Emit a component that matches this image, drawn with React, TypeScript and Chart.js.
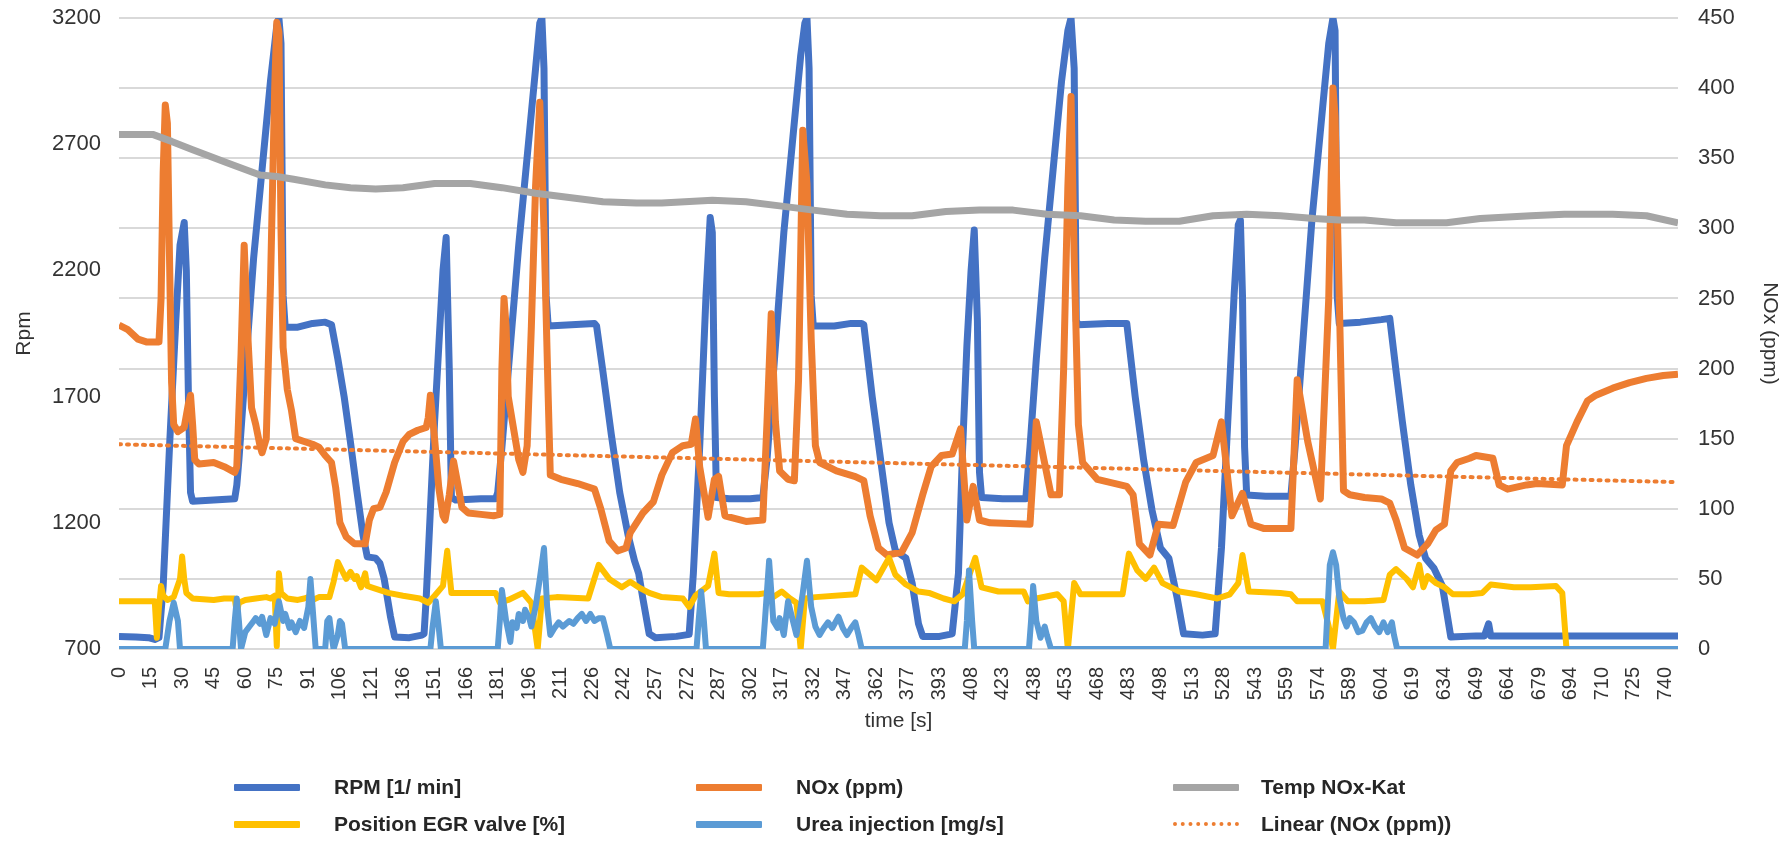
import React, { useEffect, useRef } from "react";
import { Chart, registerables } from "chart.js";

Chart.register(...registerables);

// x values are sample numbers (one sample per ~1.007 s); tick labels are the rounded times
const tickLabels = ["0","15","30","45","60","75","91","106","121","136","151","166","181","196","211","226","242","257","272","287","302","317","332","347","362","377","393","408","423","438","453","468","483","498","513","528","543","559","574","589","604","619","634","649","664","679","694","710","725","740"];
const tickStep = 15;
const lastSample = 741;

const rpmLabel = "RPM [1/ min]";
const noxLabel = "NOx (ppm)";
const tempLabel = "Temp NOx-Kat";
const egrLabel = "Position EGR valve [%]";
const ureaLabel = "Urea injection [mg/s]";
const trendLabel = "Linear (NOx (ppm))";

const rpm: [number, number][] = [[0,750],[8,748],[14,745],[17,738],[19,745],[21,950],[24,1500],[27,2000],[29,2300],[31,2390],[32,2200],[33,1700],[34,1320],[35,1285],[45,1290],[55,1295],[56,1350],[57,1450],[60,1800],[64,2250],[68,2600],[72,2950],[75,3170],[76,3200],[77,3100],[78,2100],[79,1975],[85,1975],[92,1990],[98,1995],[101,1985],[104,1850],[107,1700],[110,1520],[113,1330],[116,1150],[118,1065],[122,1060],[124,1040],[126,980],[129,830],[131,748],[138,745],[144,755],[145,760],[146,900],[148,1250],[150,1600],[152,1900],[154,2200],[155.5,2330],[157,1800],[158,1300],[160,1290],[172,1295],[179,1295],[180,1320],[182,1500],[186,1900],[190,2300],[194,2650],[198,3000],[200,3180],[201,3200],[202,3000],[203,2100],[204,1980],[215,1985],[226,1990],[227,1980],[230,1800],[234,1550],[238,1320],[242,1150],[245,1050],[247,1000],[249,900],[252,760],[255,745],[265,750],[271,758],[273,1000],[276,1500],[279,2100],[281,2410],[282,2350],[283,1700],[284,1300],[290,1295],[300,1295],[306,1300],[308,1450],[312,1900],[316,2350],[320,2700],[324,3050],[326,3180],[327,3200],[328,3000],[329,2100],[330,1980],[340,1980],[348,1990],[353,1990],[354,1985],[358,1700],[362,1450],[366,1200],[369,1090],[374,1060],[377,960],[380,800],[382,750],[390,750],[396,760],[399,1000],[401,1500],[403,1900],[405,2200],[406.5,2360],[408,2000],[409,1400],[410,1300],[420,1295],[431,1295],[433,1500],[436,1850],[440,2250],[444,2600],[448,2950],[451,3150],[452.5,3200],[454,3000],[455,2000],[456,1985],[470,1990],[479,1990],[483,1700],[487,1450],[491,1250],[495,1100],[499,1060],[503,900],[506,760],[515,755],[521,760],[524,1100],[527,1600],[530,2100],[532,2380],[533,2400],[534,2100],[535,1500],[536,1310],[545,1305],[557,1305],[559,1500],[563,1950],[567,2400],[571,2750],[575,3100],[577,3200],[578,3150],[579,2100],[580,1990],[590,1995],[600,2005],[604,2010],[607,1800],[610,1600],[614,1350],[618,1150],[621,1060],[625,1020],[629,950],[631,850],[633,748],[645,752],[649,752],[651,800],[652,752],[700,752],[741,752]];

const nox: [number, number][] = [[0,231],[4,228],[9,221],[13,219],[19,219],[20,250],[21,340],[22,388],[23,375],[24,280],[25,190],[26,160],[28,155],[31,158],[33,175],[34,181],[35,160],[36,135],[38,132],[45,133],[50,130],[55,126],[56,130],[58,210],[59.5,288],[61,230],[63,172],[65,160],[67,145],[68,140],[70,150],[72,260],[74,400],[75,447],[76,440],[77,300],[78,215],[80,185],[82,170],[84,150],[88,148],[92,146],[95,144],[98,138],[101,133],[103,115],[105,90],[108,80],[112,75],[117,75],[119,92],[121,100],[124,101],[127,112],[131,133],[135,148],[138,153],[142,156],[146,158],[147,165],[148,181],[150,150],[152,115],[154,95],[155,92],[157,110],[159,134],[161,118],[163,101],[166,97],[172,96],[178,95],[181,96],[182,200],[183,250],[184,230],[185,180],[187,162],[190,135],[192,126],[194,145],[196,230],[198,330],[200,390],[202,300],[204,180],[205,124],[210,121],[218,118],[226,114],[229,100],[233,77],[237,70],[241,72],[243,83],[249,97],[254,105],[258,124],[263,140],[268,145],[272,146],[274,164],[276,130],[280,94],[283,121],[285,123],[288,95],[298,91],[306,92],[308,162],[310,239],[312,162],[314,127],[318,121],[321,120],[323,192],[325,370],[327,332],[329,221],[331,145],[333,133],[341,127],[350,123],[354,120],[357,95],[361,72],[365,67],[372,69],[377,83],[382,110],[386,130],[391,138],[396,139],[400,157],[403,92],[406,116],[409,92],[414,90],[433,89],[436,162],[443,110],[447,110],[449,200],[451,330],[452.5,394],[454,280],[456,160],[458,133],[465,121],[479,116],[482,110],[485,75],[490,67],[494,89],[501,88],[507,119],[512,133],[520,138],[524,162],[529,95],[534,111],[538,89],[544,86],[557,86],[560,192],[565,148],[571,107],[575,250],[577,400],[578,380],[580,250],[582,113],[585,110],[592,108],[600,107],[604,104],[607,92],[611,72],[617,67],[622,75],[626,85],[630,89],[633,127],[636,133],[642,136],[645,138],[653,136],[656,117],[660,114],[669,117],[674,118],[686,117],[688,145],[693,162],[698,177],[702,181],[710,186],[718,190],[726,193],[734,195],[741,196]];

const temp: [number, number][] = [[0,367],[16,367],[25,362],[35,356],[51,347],[67,338],[75,337],[83,335],[98,331],[110,329],[122,328],[135,329],[150,332],[167,332],[182,329],[198,325],[214,322],[230,319],[246,318],[258,318],[282,320],[298,319],[314,316],[330,313],[346,310],[362,309],[377,309],[393,312],[409,313],[425,313],[441,310],[457,309],[473,306],[488,305],[504,305],[520,309],[536,310],[552,309],[568,307],[580,306],[592,306],[607,304],[631,304],[647,307],[671,309],[687,310],[710,310],[726,309],[741,304]];

const egr: [number, number][] = [[0,34],[17,34],[18,8],[19,30],[20,45],[21,38],[23,35],[26,37],[29,50],[30,66],[31,50],[32,40],[35,36],[45,35],[50,36],[55,36],[56,26],[57,33],[60,35],[65,36],[70,37],[72,36],[74,38],[75,2],[76,54],[77,40],[80,36],[85,35],[88,36],[90,37],[92,35],[95,37],[100,37],[102,48],[104,62],[106,56],[108,50],[110,55],[112,50],[113,52],[115,44],[117,54],[118,45],[120,44],[124,42],[128,40],[135,38],[143,36],[147,33],[150,38],[154,45],[156,70],[158,40],[166,40],[179,40],[181,33],[185,35],[192,40],[196,33],[199,0],[201,36],[208,37],[223,36],[228,60],[233,50],[239,44],[243,48],[247,44],[252,40],[258,37],[268,36],[271,30],[274,38],[280,45],[283,68],[285,40],[290,39],[304,39],[308,40],[311,37],[315,41],[319,36],[322,33],[324,0],[326,36],[331,37],[350,39],[353,58],[357,53],[360,49],[366,65],[369,53],[374,46],[380,41],[385,40],[392,36],[397,34],[401,39],[407,65],[410,44],[418,41],[430,41],[432,34],[436,36],[446,39],[449,34],[451,0],[454,47],[457,39],[477,39],[480,68],[484,56],[488,50],[492,58],[496,47],[504,41],[512,39],[522,36],[528,39],[532,47],[534,67],[537,41],[552,40],[557,39],[560,34],[572,34],[575,16],[577,0],[580,41],[584,34],[592,34],[601,35],[604,53],[607,57],[612,50],[615,44],[618,60],[620,44],[622,52],[626,47],[630,44],[634,39],[642,39],[648,40],[652,46],[663,44],[671,44],[683,45],[686,40],[688,0]];

const urea: [number, number][] = [[0,0],[22,0],[24,20],[26,33],[28,20],[29,0],[54,0],[55,20],[56,36],[57,20],[58,0],[60,12],[62,16],[64,20],[65,22],[67,18],[68,23],[70,10],[72,22],[74,18],[76,34],[78,20],[79,25],[81,15],[82,19],[84,12],[86,20],[88,15],[90,30],[91,50],[92,30],[93.5,0],[98,0],[99,20],[100,22],[101,10],[102,0],[104,10],[105,20],[106,18],[107.5,0],[148,0],[149,15],[150.6,34],[152,15],[153,0],[180,0],[181,20],[182,42],[184,20],[186,5],[187,19],[189,15],[190,25],[192,20],[193,28],[195,22],[196,16],[198,30],[200,50],[202,72],[203.5,30],[205,10],[207,15],[209,19],[211,16],[214,20],[216,18],[218,22],[220,25],[222,20],[224,25],[226,20],[228,22],[230,22],[232,10],[233.5,0],[274.5,0],[275.5,20],[276.7,41],[278,20],[279,0],[306,0],[307,20],[309,63],[311,20],[313,15],[314,22],[316,10],[318,34],[320,22],[322,10],[325,40],[327,63],[329,30],[331,16],[333,10],[335,15],[337,19],[339,15],[342,23],[344,15],[346,10],[348,15],[350,19],[351.5,10],[353,0],[402,0],[403,20],[404,56],[405.5,20],[406.5,0],[432.5,0],[433.5,20],[434.5,45],[436,20],[438,8],[440,16],[441,10],[443,0],[573.5,0],[574.5,30],[575.5,60],[577,69],[578.5,60],[580,37],[582,22],[583.5,16],[585,22],[587,19],[589,12],[591,13],[593,19],[595,22],[597,16],[599,12],[601,19],[603,12],[605,19],[606,10],[607.5,0],[741,0]];

const trend: [number, number][] = [[0,146],[741,119]];

const BLUE = "#4472C4";
const ORANGE = "#ED7D31";
const GRAY = "#A5A5A5";
const YELLOW = "#FFC000";
const LIGHTBLUE = "#5B9BD5";
const TEXT = "#333333";
const FAMILY = "'Liberation Sans', Arial, sans-serif";

const W = 1785;
const H = 864;

type LegendItem = { label: string; color: string; dotted?: boolean; col: number; row: number };
const legendItems: LegendItem[] = [
  { label: rpmLabel, color: BLUE, col: 0, row: 0 },
  { label: noxLabel, color: ORANGE, col: 1, row: 0 },
  { label: tempLabel, color: GRAY, col: 2, row: 0 },
  { label: egrLabel, color: YELLOW, col: 0, row: 1 },
  { label: ureaLabel, color: LIGHTBLUE, col: 1, row: 1 },
  { label: trendLabel, color: ORANGE, dotted: true, col: 2, row: 1 },
];
const legendColX = [234, 696, 1173];
const legendTextGap = [34, 34, 22];
const legendRowY = [787, 824];

const toXY = (a: [number, number][]) => a.map(([x, y]) => ({ x, y }));
const HIDDEN = "rgba(0,0,0,0)";

export default function App() {
  const ref = useRef<HTMLCanvasElement | null>(null);

  useEffect(() => {
    if (!ref.current) return;
    const yTickFont = { family: FAMILY, size: 22 };
    const xTickFont = { family: FAMILY, size: 20 };
    const titleFont = { family: FAMILY, size: 21 };
    const lineCommon = {
      pointRadius: 0,
      borderWidth: 7,
      tension: 0,
      borderJoinStyle: "round" as const,
      fill: false,
    };
    const chart = new Chart(ref.current, {
      type: "line",
      data: {
        datasets: [
          { ...lineCommon, label: trendLabel, data: toXY(trend), yAxisID: "y1", borderColor: ORANGE, backgroundColor: ORANGE, borderWidth: 4, borderDash: [2, 6], borderCapStyle: "round", order: 0 },
          { ...lineCommon, label: ureaLabel, data: toXY(urea), yAxisID: "y1", borderColor: LIGHTBLUE, backgroundColor: LIGHTBLUE, borderWidth: 6, order: 1 },
          { ...lineCommon, label: egrLabel, data: toXY(egr), yAxisID: "y1", borderColor: YELLOW, backgroundColor: YELLOW, borderWidth: 6, order: 2 },
          { ...lineCommon, label: tempLabel, data: toXY(temp), yAxisID: "y1", borderColor: GRAY, backgroundColor: GRAY, order: 3 },
          { ...lineCommon, label: noxLabel, data: toXY(nox), yAxisID: "y1", borderColor: ORANGE, backgroundColor: ORANGE, order: 4 },
          { ...lineCommon, label: rpmLabel, data: toXY(rpm), yAxisID: "y", borderColor: BLUE, backgroundColor: BLUE, order: 5 },
        ],
      },
      options: {
        animation: false,
        responsive: false,
        devicePixelRatio: 1,
        layout: { padding: { left: 0, right: 0, top: 18, bottom: 115 } },
        plugins: { legend: { display: false }, tooltip: { enabled: false } },
        scales: {
          x: {
            type: "linear",
            min: 0,
            max: lastSample,
            grid: { display: false, drawTicks: false },
            border: { display: false },
            afterBuildTicks: (s: any) => {
              s.ticks = tickLabels.map((_, i) => ({ value: i * tickStep }));
            },
            ticks: {
              autoSkip: false,
              minRotation: 90,
              maxRotation: 90,
              padding: 18,
              color: TEXT,
              font: xTickFont,
              callback: (v: any) => tickLabels[Math.round(Number(v) / tickStep)] ?? "",
            },
            title: { display: true, text: "time [s]", color: TEXT, font: titleFont, padding: { top: 0, bottom: 15 } },
            afterFit: (s: any) => { s.height = 100; },
          },
          y: {
            type: "linear",
            position: "left",
            min: 700,
            max: 3200,
            grid: { display: true, drawOnChartArea: false, drawTicks: true, tickLength: 18, tickColor: HIDDEN, color: HIDDEN },
            border: { display: false },
            ticks: { stepSize: 500, padding: 0, color: TEXT, font: yTickFont, callback: (v: any) => String(v) },
            title: { display: true, text: "Rpm", color: TEXT, font: titleFont, padding: { top: 12, bottom: 0 } },
            afterFit: (s: any) => { s.width = 119; },
          },
          y1: {
            type: "linear",
            position: "right",
            min: 0,
            max: 450,
            grid: { color: "#d9d9d9", lineWidth: 2, drawTicks: true, tickLength: 20, tickColor: HIDDEN, drawOnChartArea: true },
            border: { display: false },
            ticks: { stepSize: 50, padding: 0, color: TEXT, font: yTickFont, callback: (v: any) => String(v) },
            title: { display: true, text: "NOx (ppm)", color: TEXT, font: titleFont, padding: { top: 3, bottom: 0 } },
            afterFit: (s: any) => { s.width = 107; },
          },
        },
      } as any,
    });
    return () => chart.destroy();
  }, []);

  return (
    <div style={{ position: "absolute", left: 0, top: 0, width: W, height: H, background: "#fff", overflow: "hidden" }}>
      <canvas ref={ref} width={W} height={H} style={{ position: "absolute", left: 0, top: 0, width: W, height: H }} />
      {legendItems.map((it) => (
        <div key={it.label} style={{ position: "absolute", left: legendColX[it.col], top: legendRowY[it.row] - 15, height: 30, display: "flex", alignItems: "center", whiteSpace: "nowrap" }}>
          <div style={it.dotted
            ? { width: 66, height: 0, borderTop: `4px dotted ${it.color}` }
            : { width: 66, height: 7, background: it.color, borderRadius: 1 }} />
          <span style={{ marginLeft: legendTextGap[it.col], fontFamily: FAMILY, fontWeight: 700, fontSize: 21, color: "#262626" }}>{it.label}</span>
        </div>
      ))}
    </div>
  );
}
